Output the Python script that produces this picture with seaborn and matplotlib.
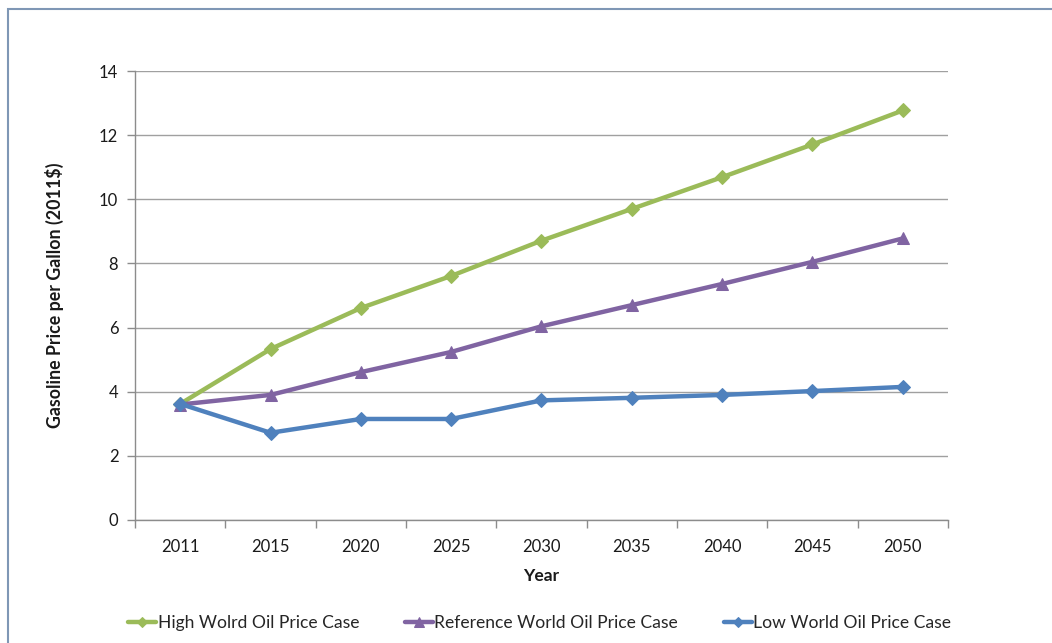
import matplotlib
matplotlib.use("Agg")
import matplotlib.pyplot as plt
import seaborn as sns
import pandas as pd
from matplotlib.patches import Rectangle
from matplotlib.ticker import FixedLocator, NullFormatter

years = ["2011", "2015", "2020", "2025", "2030", "2035", "2040", "2045", "2050"]
high = [3.62, 5.33, 6.61, 7.61, 8.71, 9.70, 10.69, 11.71, 12.77]
reference = [3.60, 3.90, 4.61, 5.24, 6.04, 6.70, 7.36, 8.05, 8.78]
low = [3.62, 2.72, 3.15, 3.15, 3.73, 3.81, 3.90, 4.02, 4.15]
series_names = ["High Wolrd Oil Price Case", "Reference World Oil Price Case", "Low World Oil Price Case"]

sns.set_theme(style="white")
plt.rcParams['font.family'] = ['Lato', 'DejaVu Sans']

fig = plt.figure(figsize=(10.52, 6.43), dpi=100)
ax = fig.add_axes([135/1052, 1-520/643, (948-135)/1052, (520-71)/643])

colors = ["#9bbb59", "#8064a2", "#4f81bd"]
markers = ["D", "^", "D"]
msizes = [7, 9, 7]
for vals, name, c, m, ms in zip([high, reference, low], series_names, colors, markers, msizes):
    df = pd.DataFrame({"Year": years, "Price": vals})
    sns.lineplot(data=df, x="Year", y="Price", ax=ax, color=c, linewidth=3.2,
                 marker=m, markersize=ms, markeredgecolor=c, label=name, sort=False)

ax.set_xlim(-0.5, len(years) - 0.5)
ax.set_ylim(0, 14)
ax.set_yticks(range(0, 15, 2))
ax.yaxis.grid(True, color="#a0a0a0", linewidth=1)
ax.xaxis.grid(False)
for s in ["top", "right"]:
    ax.spines[s].set_visible(False)
for s in ["left", "bottom"]:
    ax.spines[s].set_color("#8c8c8c")
    ax.spines[s].set_linewidth(1)

ax.xaxis.set_minor_locator(FixedLocator([i - 0.5 for i in range(len(years) + 1)]))
ax.xaxis.set_minor_formatter(NullFormatter())
ax.tick_params(axis="x", which="major", length=0, pad=14, labelsize=12, labelcolor="#1a1a1a")
ax.tick_params(axis="x", which="minor", length=6, color="#8c8c8c", width=1, bottom=True)
ax.tick_params(axis="y", which="major", length=6, color="#8c8c8c", width=1, left=True, pad=6,
               labelsize=12, labelcolor="#1a1a1a")

ax.set_xlabel("Year", fontsize=12.5, fontweight="bold", labelpad=9, color="#1a1a1a")
ax.set_ylabel("Gasoline Price per Gallon (2011$)", fontsize=12.8, fontweight="bold",
              labelpad=25, color="#1a1a1a")

ax.legend(loc="center", bbox_to_anchor=(0.513, (643-623)/643), bbox_transform=fig.transFigure,
          ncol=3, frameon=False, fontsize=12.6, handlelength=1.6, handletextpad=0.1,
          columnspacing=2.6, markerscale=0.8)

fig.patches.append(Rectangle((7.5/1052, -0.01), 1.02, 1 - 9.5/643 + 0.01, transform=fig.transFigure,
                             fill=False, edgecolor="#7f97b5", linewidth=1.5, zorder=10))

fig.savefig("out.png", dpi=100)
